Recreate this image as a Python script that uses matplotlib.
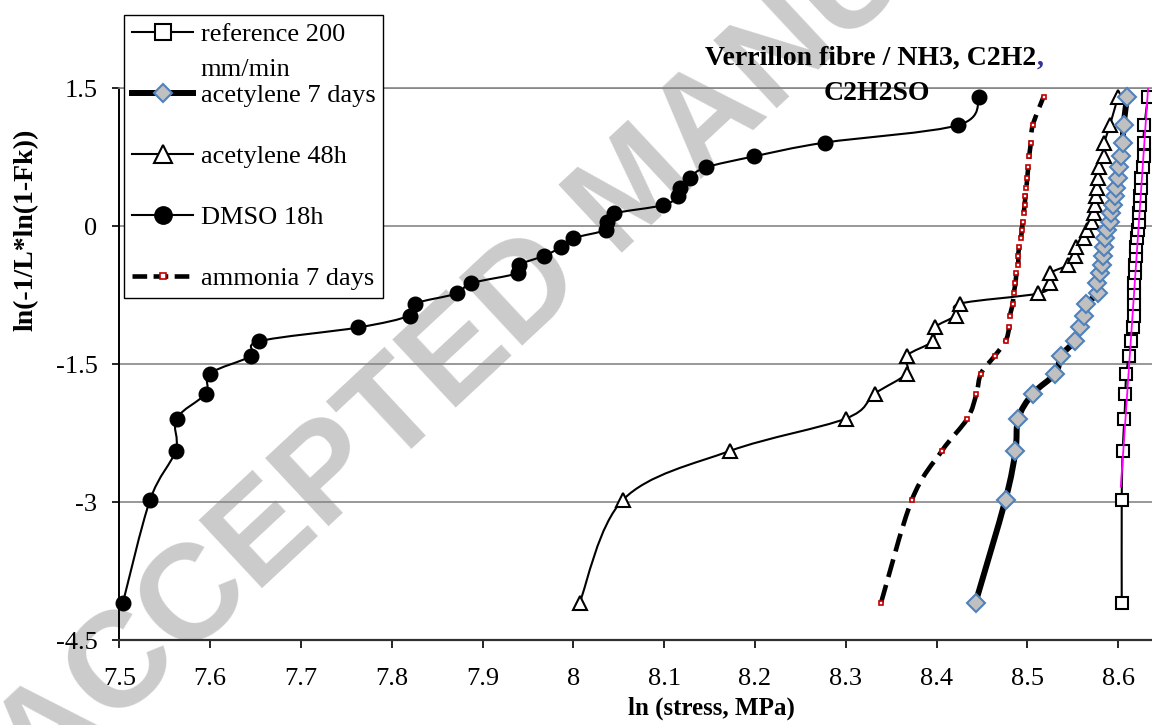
import numpy as np
import matplotlib
matplotlib.use("Agg")
import matplotlib.pyplot as plt
from matplotlib.path import Path
from matplotlib.patches import PathPatch
from matplotlib.lines import Line2D

# ---------------- data ----------------
weibull_y = [-4.09, -2.97, -2.44, -2.09, -1.82, -1.60, -1.41, -1.25, -1.10, -0.97,
             -0.84, -0.73, -0.62, -0.51, -0.42, -0.32, -0.23, -0.13, -0.04, 0.05,
             0.14, 0.23, 0.33, 0.42, 0.53, 0.64, 0.76, 0.91, 1.10, 1.41]

ref_x = [8.604, 8.604, 8.605, 8.607, 8.608, 8.609, 8.612, 8.614, 8.616, 8.617,
         8.617, 8.618, 8.618, 8.619, 8.619, 8.620, 8.620, 8.621, 8.622, 8.623,
         8.623, 8.624, 8.624, 8.625, 8.625, 8.627, 8.628, 8.628, 8.629, 8.633]

ac7_x = [8.443, 8.476, 8.487, 8.490, 8.506, 8.531, 8.537, 8.552, 8.558, 8.562,
         8.565, 8.578, 8.577, 8.580, 8.582, 8.583, 8.584, 8.586, 8.588, 8.591,
         8.592, 8.594, 8.597, 8.598, 8.600, 8.601, 8.603, 8.605, 8.606, 8.610]

ac48_x = [8.007, 8.055, 8.173, 8.300, 8.332, 8.367, 8.367, 8.396, 8.398, 8.421,
          8.426, 8.512, 8.525, 8.525, 8.545, 8.552, 8.554, 8.562, 8.566, 8.571,
          8.573, 8.575, 8.576, 8.577, 8.578, 8.579, 8.584, 8.585, 8.591, 8.600]

dmso_x = [7.504, 7.534, 7.562, 7.563, 7.595, 7.600, 7.645, 7.654, 7.763, 7.820,
          7.826, 7.872, 7.887, 7.939, 7.940, 7.968, 7.986, 8.000, 8.036, 8.037,
          8.045, 8.099, 8.115, 8.117, 8.128, 8.146, 8.199, 8.277, 8.424, 8.447]

nh3_x = [8.339, 8.373, 8.406, 8.434, 8.444, 8.449, 8.464, 8.476, 8.480, 8.481,
         8.484, 8.485, 8.487, 8.488, 8.490, 8.490, 8.491, 8.493, 8.494, 8.495,
         8.496, 8.497, 8.498, 8.499, 8.500, 8.501, 8.502, 8.504, 8.506, 8.518]

trend_x = [8.603, 8.633]
trend_y = [-2.83, 1.50]

x_ticks = [7.5, 7.6, 7.7, 7.8, 7.9, 8.0, 8.1, 8.2, 8.3, 8.4, 8.5, 8.6]
x_tick_labels = ["7.5", "7.6", "7.7", "7.8", "7.9", "8", "8.1", "8.2", "8.3", "8.4", "8.5", "8.6"]
y_ticks = [-4.5, -3.0, -1.5, 0.0, 1.5]
y_tick_labels = ["-4.5", "-3", "-1.5", "0", "1.5"]

series_labels = ["reference 200", "acetylene 7 days", "acetylene 48h", "DMSO 18h", "ammonia 7 days"]
ref_label_line2 = "mm/min"
title_line1 = "Verrillon fibre / NH3, C2H2"
title_comma = ","
title_line2 = "C2H2SO"
x_label = "ln (stress, MPa)"
y_label = "ln(-1/L*ln(1-Fk))"
watermark = "ACCEPTED MANUSCRIPT"

# ---------------- figure ----------------
W, H = 1152, 725
SERIF = ["Liberation Serif", "DejaVu Serif"]
plt.rcParams["font.family"] = SERIF

fig = plt.figure(figsize=(W / 100, H / 100), dpi=100)

# watermark behind everything
fig.text(40 / W, (H - 795) / H, watermark, rotation=43, rotation_mode="anchor",
         ha="left", va="baseline", fontsize=98, color="#cbcbcb",
         fontweight="bold", family=["Liberation Sans", "DejaVu Sans"], zorder=-5)

x0_px, y_top_px, y_bot_px = 119.3, 88.3, 640.3
ax = fig.add_axes([x0_px / W, (H - y_bot_px) / H, (W - x0_px) / W, (y_bot_px - y_top_px) / H])
ax.set_facecolor("none")
ax.set_xlim(7.5, 7.5 + (W - x0_px) / 908.0)
ax.set_ylim(-4.5, 1.5)

ax.set_xticks(x_ticks)
ax.set_xticklabels(x_tick_labels)
ax.set_yticks(y_ticks)
ax.set_yticklabels(y_tick_labels)
ax.tick_params(axis="x", direction="out", length=5.8, width=1.2, labelsize=19, pad=14)
ax.tick_params(axis="y", direction="out", length=5.2, width=1.2, labelsize=19, pad=10.5)

GRID = "#868686"
ax.yaxis.grid(True, color=GRID, lw=1.2, zorder=0)
ax.set_axisbelow(True)
ax.spines["right"].set_visible(False)
ax.spines["top"].set_color(GRID)
ax.spines["top"].set_linewidth(1.2)
ax.spines["left"].set_color("black")
ax.spines["left"].set_linewidth(1.4)
ax.spines["bottom"].set_color("#303030")
ax.spines["bottom"].set_linewidth(1.6)


def smooth_path(xs, ys):
    pts = np.column_stack([xs, ys]).astype(float)
    n = len(pts)
    verts = [pts[0]]
    codes = [Path.MOVETO]
    for i in range(n - 1):
        p0 = pts[i - 1] if i > 0 else pts[i]
        p1 = pts[i]
        p2 = pts[i + 1]
        p3 = pts[i + 2] if i + 2 < n else pts[i + 1]
        c1 = p1 + (p2 - p0) / 6.0
        c2 = p2 - (p3 - p1) / 6.0
        verts += [c1, c2, p2]
        codes += [Path.CURVE4] * 3
    return Path(verts, codes)


def add_line(xs, ys, lw, ls="-", z=3):
    patch = PathPatch(smooth_path(xs, ys), facecolor="none", edgecolor="black",
                      lw=lw, linestyle=ls, zorder=z, capstyle="butt", joinstyle="round")
    ax.add_patch(patch)


# reference
add_line(ref_x, weibull_y, 1.5, z=3)
ax.plot(ref_x, weibull_y, ls="none", marker="s", ms=9, mfc="white", mec="black",
        mew=1.5, zorder=3.1, clip_on=False)
# magenta trend line
ax.plot(trend_x, trend_y, color="#ff00ff", lw=1.3, zorder=3.5)

# acetylene 48h
add_line(ac48_x, weibull_y, 1.5, z=4)
ax.plot(ac48_x, weibull_y, ls="none", marker="^", ms=10, mfc="white", mec="black",
        mew=1.5, zorder=4.1, clip_on=False)

# acetylene 7 days
add_line(ac7_x, weibull_y, 4.3, z=5)
ax.plot(ac7_x, weibull_y, ls="none", marker="D", ms=9, mfc="#c0c0c0", mec="#4f81bd",
        mew=1.5, zorder=5.1, clip_on=False)

# ammonia 7 days
add_line(nh3_x, weibull_y, 3.3, ls=(0, (4.0, 1.8)), z=6)
ax.plot(nh3_x, weibull_y, ls="none", marker="s", ms=3.3, mfc="white", mec="#c00000",
        mew=1.2, zorder=6.1, clip_on=False)

# DMSO 18h
add_line(dmso_x, weibull_y, 1.5, z=7)
ax.plot(dmso_x, weibull_y, ls="none", marker="o", ms=10.5, mfc="black", mec="black",
        zorder=7.1, clip_on=False)

# axis titles
fig.text(711 / W, 1 - 708 / H, x_label, ha="center", va="center", fontsize=18,
         fontweight="bold")
fig.text(26 / W, 1 - 230 / H, y_label, ha="center", va="center", rotation=90,
         fontsize=20, fontweight="bold")

# chart title
t1 = fig.text(705 / W, 1 - 65 / H, title_line1, ha="left", va="baseline", fontsize=20,
              fontweight="bold")
fig.text(877 / W, 1 - 100 / H, title_line2, ha="center", va="baseline", fontsize=20,
         fontweight="bold")

# legend with proxy handles
handles = [
    Line2D([], [], color="black", lw=1.5, marker="s", ms=12, mfc="white", mec="black", mew=1.5),
    Line2D([], [], color="black", lw=4.3, marker="D", ms=9.5, mfc="#c0c0c0", mec="#4f81bd", mew=1.5),
    Line2D([], [], color="black", lw=1.5, marker="^", ms=13, mfc="white", mec="black", mew=1.5),
    Line2D([], [], color="black", lw=1.5, marker="o", ms=12.5, mfc="black", mec="black"),
    Line2D([], [], color="black", lw=3.3, ls=(0, (3.2, 1.4)), marker="s", ms=4, mfc="white",
           mec="#c00000", mew=1.2),
]
leg = fig.legend(handles, series_labels, loc="upper left",
                 bbox_to_anchor=(124.3 / W, 1 - 15 / H), bbox_transform=fig.transFigure,
                 prop=dict(family=SERIF, size=19), frameon=True, fancybox=False,
                 edgecolor="black", framealpha=1, borderpad=0.3, handlelength=2.3,
                 handletextpad=0.3, labelspacing=1.42, borderaxespad=0)
leg.get_frame().set_linewidth(1.0)
leg.set_zorder(10)

fig.canvas.draw()
renderer = fig.canvas.get_renderer()
bb_t1 = t1.get_window_extent(renderer)
fig.text(bb_t1.x1 / W, 1 - 65 / H, title_comma, ha="left", va="baseline", fontsize=20,
         fontweight="bold", color="#33339a")
bb0 = leg.get_texts()[0].get_window_extent(renderer)
fig.text(bb0.x0 / W, (bb0.y0 - 13) / H, ref_label_line2, ha="left", va="top",
         fontsize=19, zorder=11)

fig.savefig("out.png", dpi=100)
